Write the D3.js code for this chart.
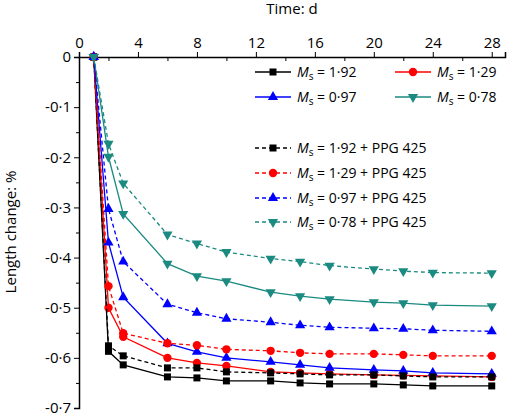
<!DOCTYPE html><html><head><meta charset="utf-8"><script src="https://cdn.jsdelivr.net/npm/d3@7"></script>
<style>body{margin:0;background:#fff}text{font-family:"Open Sans",sans-serif;}</style></head><body><svg id="c" width="520" height="419"></svg><script>
const days=[1,2,3,6,8,10,13,15,17,20,22,24,28];
const ms192=[0,-0.587,-0.614,-0.638,-0.64,-0.646,-0.646,-0.65,-0.652,-0.652,-0.654,-0.656,-0.656];
const ms129=[0,-0.5,-0.558,-0.6,-0.61,-0.616,-0.628,-0.63,-0.632,-0.634,-0.635,-0.636,-0.638];
const ms097=[0,-0.37,-0.479,-0.571,-0.588,-0.6,-0.608,-0.614,-0.62,-0.624,-0.626,-0.63,-0.632];
const ms078=[0,-0.199,-0.313,-0.412,-0.437,-0.447,-0.469,-0.477,-0.483,-0.489,-0.491,-0.495,-0.497];
const ms192p=[0,-0.576,-0.596,-0.62,-0.62,-0.628,-0.63,-0.632,-0.634,-0.634,-0.636,-0.638,-0.638];
const ms129p=[0,-0.457,-0.551,-0.571,-0.575,-0.583,-0.586,-0.59,-0.592,-0.592,-0.594,-0.596,-0.596];
const ms097p=[0,-0.303,-0.408,-0.493,-0.51,-0.522,-0.529,-0.535,-0.539,-0.541,-0.542,-0.545,-0.547];
const ms078p=[0,-0.173,-0.252,-0.354,-0.372,-0.389,-0.402,-0.408,-0.416,-0.423,-0.427,-0.43,-0.431];
const xTicks=[0,4,8,12,16,20,24,28];
const yTicks=[0,-0.1,-0.2,-0.3,-0.4,-0.5,-0.6,-0.7];
const series=[
 {name:"1·92",v:ms192,c:"#000",m:"sq",d:false},
 {name:"1·29",v:ms129,c:"#f00",m:"ci",d:false},
 {name:"0·97",v:ms097,c:"#0000ff",m:"up",d:false},
 {name:"0·78",v:ms078,c:"#1b8a80",m:"dn",d:false},
 {name:"1·92",v:ms192p,c:"#000",m:"sq",d:true},
 {name:"1·29",v:ms129p,c:"#f00",m:"ci",d:true},
 {name:"0·97",v:ms097p,c:"#0000ff",m:"up",d:true},
 {name:"0·78",v:ms078p,c:"#1b8a80",m:"dn",d:true}];
const svg=d3.select("#c");
const x=d3.scaleLinear().domain([0,28.9]).range([79,505]);
const y=d3.scaleLinear().domain([0,-0.7]).range([57,408]);
const fmt=v=>v===0?"0":"-0·"+Math.round(Math.abs(v)*10);
const ax=svg.append("g").attr("transform","translate(0,57)").call(d3.axisTop(x).tickValues(xTicks).tickSize(5).tickFormat(d3.format("d")));
ax.attr("font-size",15).selectAll("text").attr("dy","-0.1em");
svg.append("g").attr("transform","translate(0,57)").call(d3.axisBottom(x).tickValues(d3.range(2,29,4)).tickSize(4).tickFormat("")).select(".domain").remove();
const ay=svg.append("g").attr("transform","translate(79,0)").call(d3.axisLeft(y).tickValues(yTicks).tickSize(5).tickFormat(fmt));
ay.attr("font-size",15);
svg.append("g").attr("transform","translate(79,0)").call(d3.axisLeft(y).tickValues(d3.range(-0.05,-0.7,-0.1)).tickSize(3).tickFormat("")).select(".domain").remove();
svg.selectAll(".domain").attr("stroke-width",1.5);
svg.append("text").attr("x",292).attr("y",14).attr("text-anchor","middle").attr("font-size",15).text("Time: d");
svg.append("text").attr("transform","translate(16,232) rotate(-90)").attr("text-anchor","middle").attr("font-size",15).text("Length change: %");
function marker(g,m,c,px,py){
 if(m==="sq")g.append("rect").attr("x",px-3.5).attr("y",py-3.5).attr("width",7).attr("height",7).attr("fill",c);
 else if(m==="ci")g.append("circle").attr("cx",px).attr("cy",py).attr("r",4.2).attr("fill",c);
 else{const s=d3.symbol().type(d3.symbolTriangle).size(45)();g.append("path").attr("d",s).attr("fill",c).attr("transform",`translate(${px},${py})`+(m==="dn"?" rotate(180)":""));}
}
const line=d3.line().x((d,i)=>x(days[i])).y(d=>y(d));
series.forEach(s=>{
 const g=svg.append("g");
 g.append("path").attr("d",line(s.v)).attr("fill","none").attr("stroke",s.c).attr("stroke-width",1.3).attr("stroke-dasharray",s.d?"4,3":null);
 s.v.forEach((v,i)=>marker(g,s.m,s.c,x(days[i]),y(v)));
});
const leg=[[0,255,72],[1,395,72],[2,255,97],[3,395,97],[4,255,148],[5,255,173],[6,255,198],[7,255,222]];
leg.forEach(([i,lx,ly])=>{
 const s=series[i];const g=svg.append("g");
 g.append("line").attr("x1",lx).attr("x2",lx+36).attr("y1",ly).attr("y2",ly).attr("stroke",s.c).attr("stroke-width",1.3).attr("stroke-dasharray",s.d?"4,3":null);
 marker(g,s.m,s.c,lx+18,ly);
 const t=g.append("text").attr("x",lx+42).attr("y",ly+5).attr("font-size",14);
 t.append("tspan").attr("font-style","italic").text("M");
 t.append("tspan").attr("font-size",10).attr("dy",3).text("s");
 t.append("tspan").attr("dy",-3).text(" = "+s.name+(s.d?" + PPG 425":""));
});
</script></body></html>
